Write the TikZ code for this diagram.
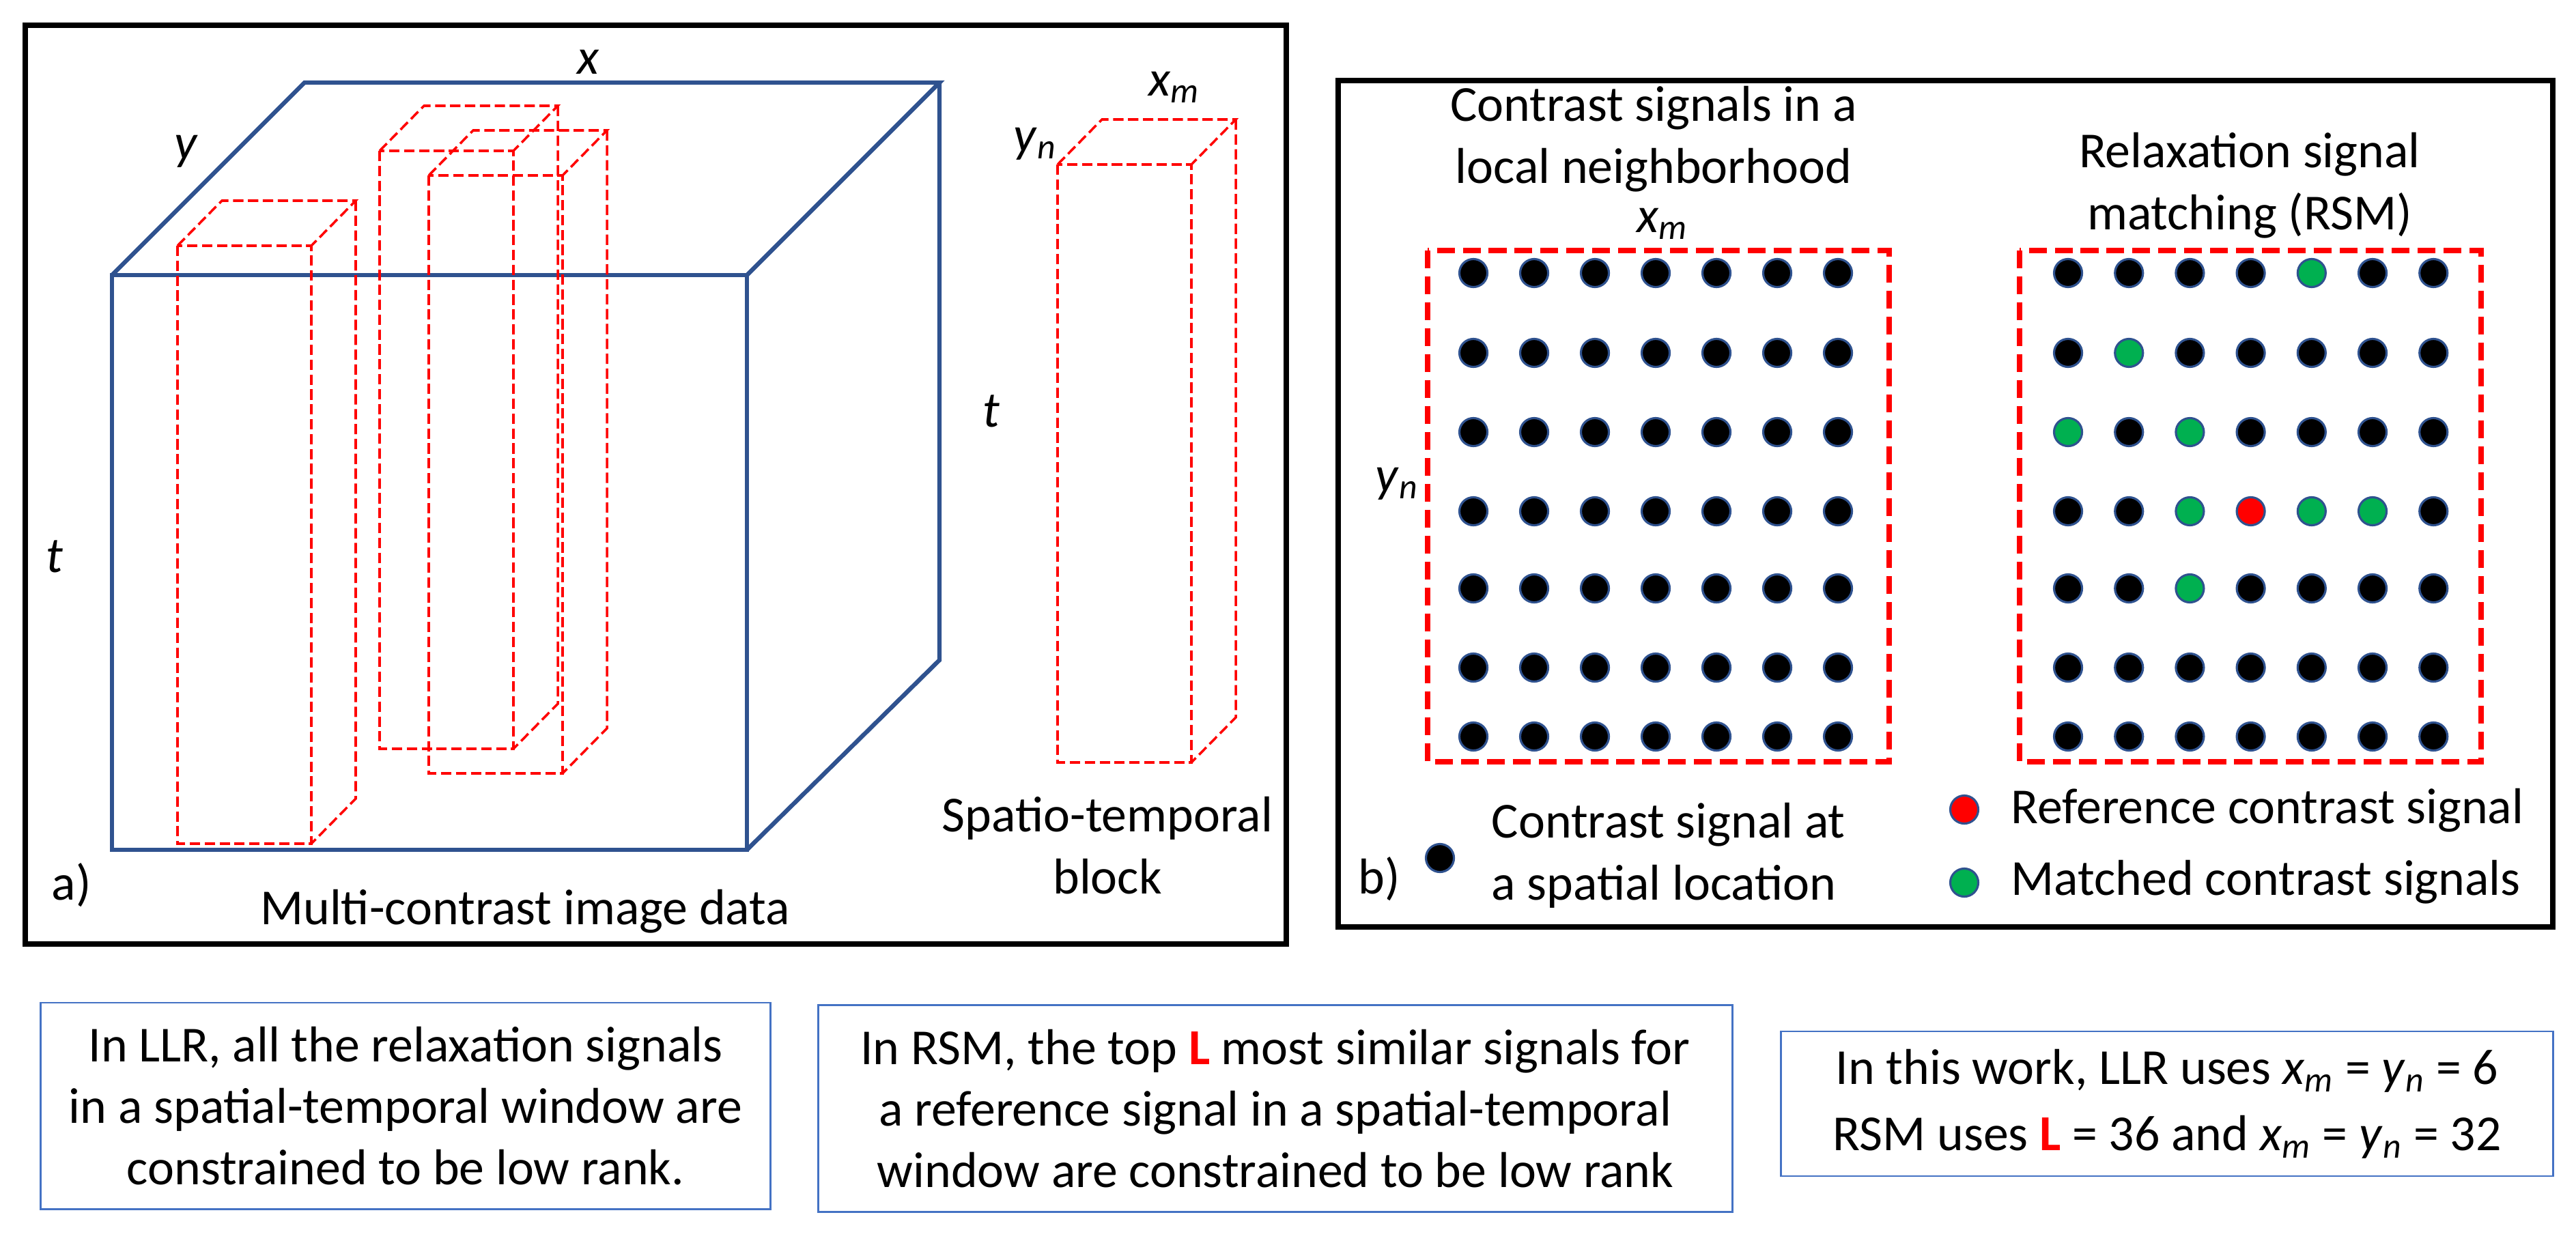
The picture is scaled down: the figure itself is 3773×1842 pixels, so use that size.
\documentclass[tikz,border=0pt]{standalone}
\usepackage{fontspec}
\setmainfont{Carlito}

\definecolor{cubeblue}{HTML}{2F528F}
\definecolor{boxblue}{HTML}{4472C4}
\definecolor{mgreen}{HTML}{00B050}
\definecolor{mred}{HTML}{FF0000}
\colorlet{sk}{black}
\colorlet{sg}{mgreen}
\colorlet{sr}{mred}

\newcommand{\xm}{\textit{x}\textsubscript{\textit{m}}}
\newcommand{\yn}{\textit{y}\textsubscript{\textit{n}}}

\tikzset{
  every node/.style={font=\fontsize{21}{25.6}\selectfont, inner sep=0pt},
  frame/.style={draw=black, line width=2.4pt},
  cube/.style={draw=cubeblue, line width=1.8pt},
  blk/.style={draw=mred, line width=1pt, dash pattern=on 4.3pt off 1.9pt},
  win/.style={draw=mred, line width=2.2pt, dash pattern=on 7.4pt off 3.4pt},
  sig/.style={circle, draw=cubeblue, line width=0.9pt, minimum size=0.41cm},
  lbl/.style={anchor=base, align=center},
  tbox/.style={draw=boxblue, line width=0.8pt, align=center},
}

\NewDocumentCommand{\stblock}{mm}{%
\begin{scope}[shift={(#1,#2)}]
\draw[blk] (0,0) rectangle (196,876);
\draw[blk] (0,0) -- (65,-66) -- (261,-66) -- (196,0);
\draw[blk] (261,-66) -- (261,810) -- (196,876);
\end{scope}%
}

\begin{document}
\begin{tikzpicture}[x=0.01cm, y=-0.01cm]
\useasboundingbox (0,0) rectangle (3773,1842);

% a) image data and blocks
\draw[frame] (37,37) rectangle (1884,1383);
\draw[cube] (164,403) rectangle (1094,1245);
\draw[cube] (164,403) -- (446,121) -- (1376,121) -- (1094,403);
\draw[cube] (1376,121) -- (1376,967) -- (1094,1245);
\stblock{260}{360}
\stblock{556}{221}
\stblock{628}{257}
\stblock{1549}{241}

\node[lbl] (xlab) at (862,108) {\textit{x}};
\node[lbl] (ylab) at (273,233) {\textit{y}};
\node[lbl] (tlab) at (80,838) {\textit{t}};
\node[lbl, anchor=base west] (alab) at (75,1318) {a)};
\node[lbl] (datalab) at (769,1354) {Multi-contrast image data};
\node[lbl] (xmlab) at (1720,140) {\xm};
\node[lbl] (ynlab) at (1516,222) {\yn};
\node[lbl] (tblab) at (1452,625) {\textit{t}};
\node[lbl] (blocklab) at (1622,1309) {Spatio-temporal\\block};

% b) neighborhood and matching
\draw[frame] (1960,118) rectangle (3739,1358);
\draw[win] (2091,367) rectangle (2767,1116);
\draw[win] (2958,367) rectangle (3634,1116);

\node[lbl] (nbhlab) at (2422,268) {Contrast signals in a\\local neighborhood};
\node[lbl] (xmwin) at (2435,340) {\xm};
\node[lbl] (ynwin) at (2046,720) {\yn};
\node[lbl] (rsmlab) at (3295,336) {Relaxation signal\\matching (RSM)};

\foreach \cc in {1,...,7} {
  \foreach \rr in {1,...,7} {
    \pgfmathsetmacro{\yy}{{400,517,633,749,862,978,1079}[\rr-1]}
    \node[sig, fill=sk] (l\rr\cc) at ({2158+89*(\cc-1)},\yy) {};
  }
}
\foreach \row [count=\rr] in {{k,k,k,k,g,k,k},{k,g,k,k,k,k,k},{g,k,g,k,k,k,k},{k,k,g,r,g,g,k},{k,k,g,k,k,k,k},{k,k,k,k,k,k,k},{k,k,k,k,k,k,k}} {
  \pgfmathsetmacro{\yy}{{400,517,633,749,862,978,1079}[\rr-1]}
  \foreach \f [count=\cc] in \row {
    \node[sig, fill=s\f] (r\rr\cc) at ({3029+89.2*(\cc-1)},\yy) {};
  }
}

\node[lbl, anchor=base west] (blab) at (1989,1309) {b)};
\node[sig, fill=sk] (keyk) at (2109,1257) {};
\node[lbl, anchor=base west, align=left] (keyktxt) at (2184,1318) {Contrast signal at\\a spatial location};
\node[sig, fill=sr] (keyr) at (2877,1186) {};
\node[lbl, anchor=base west] (keyrtxt) at (2945,1206) {Reference contrast signal};
\node[sig, fill=sg] (keyg) at (2877,1293) {};
\node[lbl, anchor=base west] (keygtxt) at (2945,1311) {Matched contrast signals};

% notes
\node[tbox, minimum width=10.68cm, minimum height=3.02cm] (llrbox) at (594,1620)
  {In LLR, all the relaxation signals\\in a spatial-temporal window are\\constrained to be low rank.};
\node[tbox, minimum width=13.38cm, minimum height=3.03cm] (rsmbox) at (1868,1624)
  {In RSM, the top \textcolor{mred}{\textbf{L}} most similar signals for\\a reference signal in a spatial-temporal\\window are constrained to be low rank};
\node[tbox, minimum width=11.30cm, minimum height=2.12cm] (workbox) at (3174,1617)
  {In this work, LLR uses \xm{} = \yn{} = 6\\[2pt]RSM uses \textcolor{mred}{\textbf{L}} = 36 and \xm{} = \yn{} = 32};
\end{tikzpicture}
\end{document}
